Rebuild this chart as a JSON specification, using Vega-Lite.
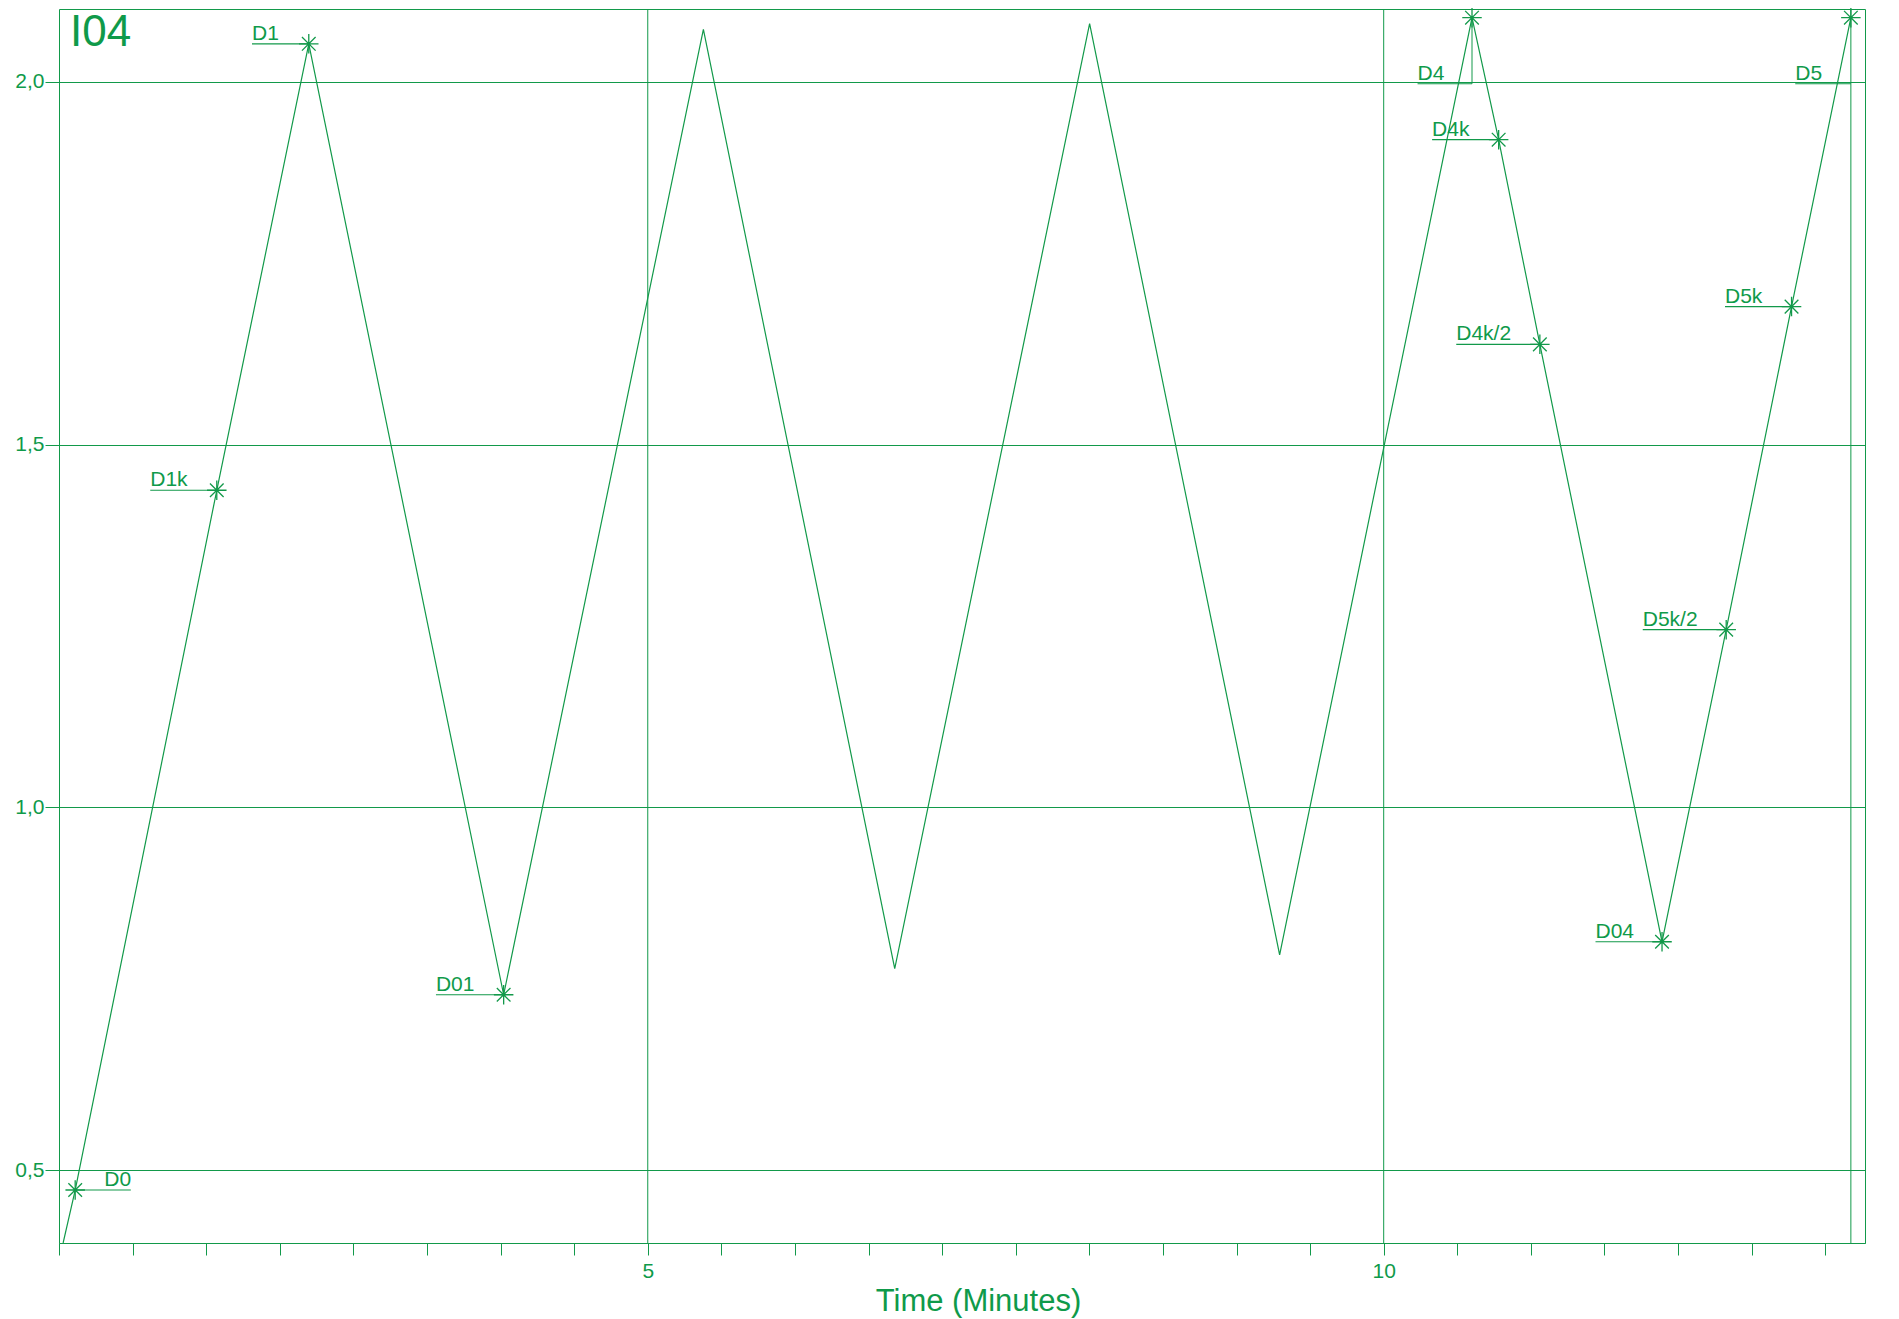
{
  "$schema": "https://vega.github.io/schema/vega-lite/v6.json",
  "autosize": {"type": "none"},
  "width": 1806,
  "height": 1234,
  "padding": {"left": 59, "top": 9, "right": 34, "bottom": 76},
  "background": "white",
  "config": {
    "font": "Liberation Sans",
    "view": {"stroke": "#12994a", "strokeWidth": 1},
    "axis": {"labelFont": "Liberation Sans", "titleFont": "Liberation Sans", "labelColor": "#0f9a4a", "titleColor": "#0f9a4a", "tickColor": "#12994a", "domainColor": "#12994a", "gridColor": "#12994a", "gridOpacity": 1, "domainWidth": 1, "tickWidth": 1, "gridWidth": 1}
  },
  "datasets": {
    "heading": [{"name": "I04", "t": 1, "v": 2.1}],
    "curve": [
      {"t": 1.028, "v": 0.40},
      {"t": 1.110, "v": 0.473},
      {"t": 2.072, "v": 1.437},
      {"t": 2.697, "v": 2.052},
      {"t": 4.021, "v": 0.742},
      {"t": 5.378, "v": 2.072},
      {"t": 6.678, "v": 0.778},
      {"t": 8.002, "v": 2.080},
      {"t": 9.293, "v": 0.797},
      {"t": 10.600, "v": 2.088},
      {"t": 10.781, "v": 1.920},
      {"t": 11.061, "v": 1.638},
      {"t": 11.891, "v": 0.815},
      {"t": 12.327, "v": 1.245},
      {"t": 12.771, "v": 1.690},
      {"t": 13.174, "v": 2.088}
    ],
    "markers": [
      {"label": "D0", "t": 1.110, "v": 0.473},
      {"label": "D1k", "t": 2.072, "v": 1.437},
      {"label": "D1", "t": 2.697, "v": 2.052},
      {"label": "D01", "t": 4.021, "v": 0.742},
      {"label": "D4", "t": 10.600, "v": 2.088},
      {"label": "D4k", "t": 10.781, "v": 1.920},
      {"label": "D4k/2", "t": 11.061, "v": 1.638},
      {"label": "D04", "t": 11.891, "v": 0.815},
      {"label": "D5k/2", "t": 12.327, "v": 1.245},
      {"label": "D5k", "t": 12.771, "v": 1.690},
      {"label": "D5", "t": 13.174, "v": 2.088}
    ],
    "labels": [
      {"label": "D0", "x1": 1.110, "x2": 1.488, "y": 0.473, "tx": 1.308},
      {"label": "D1k", "x1": 1.620, "x2": 2.072, "y": 1.437, "tx": 1.620},
      {"label": "D1", "x1": 2.311, "x2": 2.697, "y": 2.052, "tx": 2.311},
      {"label": "D01", "x1": 3.561, "x2": 4.021, "y": 0.742, "tx": 3.561},
      {"label": "D4", "x1": 10.230, "x2": 10.600, "y": 1.997, "tx": 10.230},
      {"label": "D4k", "x1": 10.329, "x2": 10.781, "y": 1.920, "tx": 10.329},
      {"label": "D4k/2", "x1": 10.493, "x2": 11.061, "y": 1.638, "tx": 10.493},
      {"label": "D04", "x1": 11.439, "x2": 11.891, "y": 0.815, "tx": 11.439},
      {"label": "D5k/2", "x1": 11.760, "x2": 12.327, "y": 1.245, "tx": 11.760},
      {"label": "D5k", "x1": 12.319, "x2": 12.771, "y": 1.690, "tx": 12.319},
      {"label": "D5", "x1": 12.796, "x2": 13.174, "y": 1.997, "tx": 12.796}
    ],
    "vlines": [
      {"t": 5, "y1": 0.4, "y2": 2.1},
      {"t": 10, "y1": 0.4, "y2": 2.1},
      {"t": 13.174, "y1": 0.4, "y2": 2.1},
      {"t": 10.600, "y1": 1.997, "y2": 2.088}
    ]
  },
  "layer": [
    {
      "data": {"name": "vlines"},
      "mark": {"type": "rule", "color": "#12994a", "strokeWidth": 1},
      "encoding": {
        "x": {"field": "t", "type": "quantitative", "scale": {"domain": [1, 13.27], "nice": false, "zero": false},
          "axis": {"values": [1, 1.5, 2, 2.5, 3, 3.5, 4, 4.5, 5, 5.5, 6, 6.5, 7, 7.5, 8, 8.5, 9, 9.5, 10, 10.5, 11, 11.5, 12, 12.5, 13],
            "labelExpr": "datum.value == 5 || datum.value == 10 ? format(datum.value, 'd') : ''",
            "grid": false, "tickSize": 12, "labelPadding": 5, "labelFontSize": 21, "labelFlush": false,
            "title": "Time (Minutes)", "titleFontSize": 31, "titleFontWeight": "normal", "titleX": 919, "titleY": 67, "titleBaseline": "alphabetic", "titleAlign": "center"}},
        "y": {"field": "y1", "type": "quantitative", "scale": {"domain": [0.4, 2.1], "nice": false, "zero": false},
          "axis": {"values": [0.5, 1.0, 1.5, 2.0], "labelExpr": "replace(format(datum.value, '.1f'), '.', ',')",
            "grid": true, "tickSize": 14, "labelPadding": 1, "labelFontSize": 21, "title": null, "domain": false}},
        "y2": {"field": "y2"}
      }
    },
    {
      "data": {"name": "curve"},
      "mark": {"type": "line", "color": "#12994a", "strokeWidth": 1.2, "clip": true},
      "encoding": {
        "x": {"field": "t", "type": "quantitative"},
        "y": {"field": "v", "type": "quantitative"}
      }
    },
    {
      "data": {"name": "labels"},
      "mark": {"type": "rule", "color": "#12994a", "strokeWidth": 1.2},
      "encoding": {
        "x": {"field": "x1", "type": "quantitative"},
        "x2": {"field": "x2"},
        "y": {"field": "y", "type": "quantitative"}
      }
    },
    {
      "data": {"name": "labels"},
      "mark": {"type": "text", "align": "left", "baseline": "alphabetic", "dy": -4, "fontSize": 21, "color": "#0f9a4a", "font": "Liberation Sans"},
      "encoding": {
        "x": {"field": "tx", "type": "quantitative"},
        "y": {"field": "y", "type": "quantitative"},
        "text": {"field": "label"}
      }
    },
    {
      "data": {"name": "heading"},
      "mark": {"type": "text", "align": "left", "baseline": "alphabetic", "dx": 11, "dy": 37, "fontSize": 44, "color": "#0f9a4a", "font": "Liberation Sans"},
      "encoding": {
        "x": {"field": "t", "type": "quantitative"},
        "y": {"field": "v", "type": "quantitative"},
        "text": {"field": "name"}
      }
    },
    {
      "data": {"name": "markers"},
      "mark": {"type": "point", "shape": "M-1,0L1,0M0,-1L0,1M-0.7,-0.7L0.7,0.7M-0.7,0.7L0.7,-0.7", "size": 380, "filled": false, "stroke": "#12994a", "strokeWidth": 1.3, "opacity": 1},
      "encoding": {
        "x": {"field": "t", "type": "quantitative"},
        "y": {"field": "v", "type": "quantitative"}
      }
    }
  ]
}
